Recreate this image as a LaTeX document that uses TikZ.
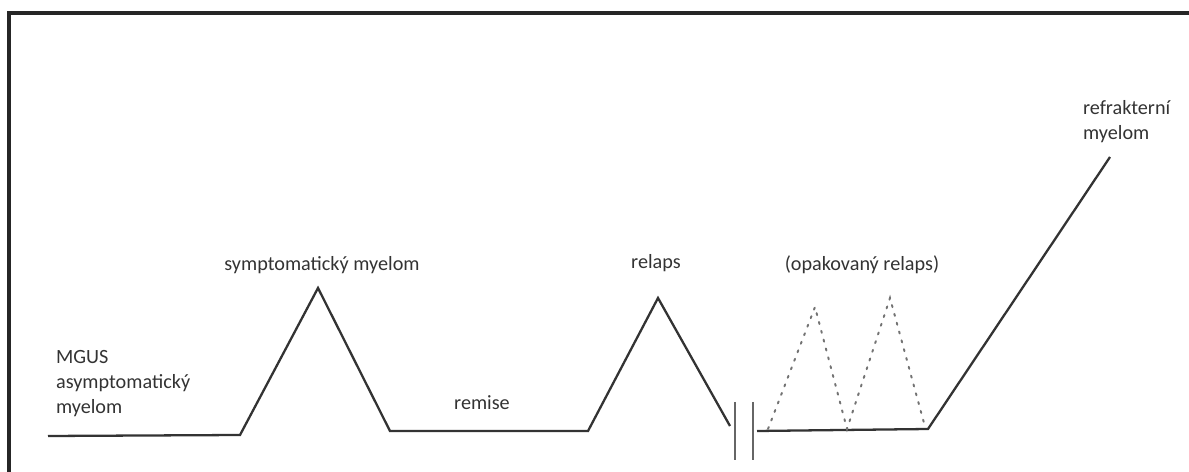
\documentclass[tikz,border=0pt]{standalone}
\usepackage{fontspec}
\setmainfont{Carlito}
\usepackage{tikz}
\usetikzlibrary{positioning,calc}
\definecolor{ink}{HTML}{333333}
\tikzset{
  course/.style={draw=ink, line width=1.3pt, line join=miter},
  maybe/.style={draw=black!55, line width=1.1pt, dash pattern=on 1.2pt off 4pt, line cap=round},
  brk/.style={draw=black!60, line width=0.9pt},
  frame/.style={draw=black!85, line width=1.8pt},
  stage/.style={font=\fontsize{11.5}{14.2}\selectfont, text=ink, inner sep=1pt, align=left},
}

\begin{document}
\begin{tikzpicture}
  \useasboundingbox (0,0) rectangle (23.78,9.44);
  % frame, top and left only
  \draw[frame] (0.18,0) -- (0.18,9.18) -- (23.78,9.18);
  % points of the disease course
  \coordinate (s0) at (0.96,0.72);
  \coordinate (s1) at (4.80,0.74);
  \coordinate (p1) at (6.36,3.68);
  \coordinate (r0) at (7.80,0.82);
  \coordinate (r1) at (11.76,0.82);
  \coordinate (p2) at (13.16,3.48);
  \coordinate (b0) at (14.60,0.92);
  \coordinate (a0) at (15.14,0.82);
  \coordinate (a1) at (18.56,0.86);
  \coordinate (top) at (22.20,6.30);
  \coordinate (q1) at (15.36,0.86);
  \coordinate (d1) at (16.30,3.30);
  \coordinate (v) at (16.94,0.86);
  \coordinate (d2) at (17.80,3.48);
  \coordinate (q2) at (18.48,0.98);
  % solid course
  \draw[course] (s0) -- (s1) -- (p1) -- (r0) -- (r1) -- (p2) -- (b0);
  \draw[course] (a0) -- (a1) -- (top);
  % break in the time axis
  \draw[brk] (14.70,1.40) -- (14.70,0.24);
  \draw[brk] (15.06,1.40) -- (15.06,0.24);
  % repeated relapses
  \draw[maybe] (q1) -- (d1) -- (v) -- (d2) -- (q2);
  % labels
  \node[stage, anchor=west] (mgus) at (1.08,1.76) {MGUS\\asymptomatický\\myelom};
  \node[stage] (sym) at (6.44,4.14) {symptomatický myelom};
  \node[stage] (rem) at (9.64,1.38) {remise};
  \node[stage] (rel) at (13.12,4.18) {relaps};
  \node[stage] (orel) at (17.24,4.14) {(opakovaný relaps)};
  \node[stage, anchor=west] (refr) at (21.62,7.00) {refrakterní\\myelom};
\end{tikzpicture}
\end{document}
